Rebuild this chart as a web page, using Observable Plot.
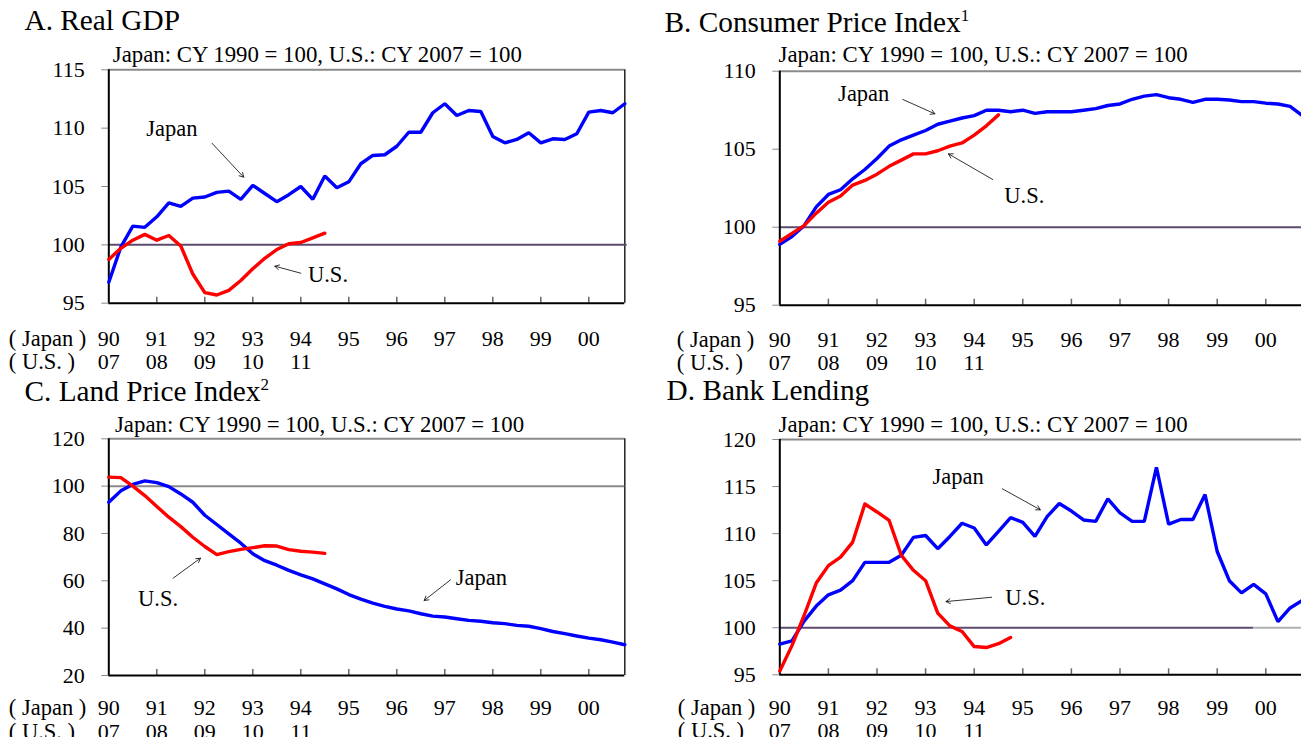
<!DOCTYPE html>
<html>
<head>
<meta charset="utf-8">
<script src="https://cdn.jsdelivr.net/npm/d3@7"></script>
<script src="https://cdn.jsdelivr.net/npm/@observablehq/plot@0.6"></script>
<style>
html, body { margin: 0; padding: 0; background: #fff; overflow: hidden; }
#root { position: relative; width: 1301px; height: 737px; overflow: hidden; font-family: "Liberation Serif", "Times New Roman", serif; color: #000; }
.panel { position: absolute; }
#overlay { position: absolute; left: 0; top: 0; }
</style>
</head>
<body>
<div id="root"></div>
<script>
// ---------------- data ----------------
const yearTicks = [1990, 1991, 1992, 1993, 1994, 1995, 1996, 1997, 1998, 1999, 2000];
const japanYearLabels = ["90", "91", "92", "93", "94", "95", "96", "97", "98", "99", "00"];
const usYearLabels = ["07", "08", "09", "10", "11"];
const rowLabels = ["( Japan )", "( U.S. )"];

const panelTitles = ["A. Real GDP", "B. Consumer Price Index", "C. Land Price Index", "D. Bank Lending"];
const titleNotes = ["", "1", "2", ""];
const baseNote = "Japan: CY 1990 = 100, U.S.: CY 2007 = 100";

// quarterly, Japan from 1990 Q1, U.S. from 2007 Q1
const gdpJapan = [96.8, 99.8, 101.6, 101.5, 102.4, 103.6, 103.3, 104.0, 104.1, 104.5, 104.6, 103.9,
  105.1, 104.4, 103.7, 104.3, 105.0, 103.9, 105.9, 104.9, 105.4, 106.95, 107.66, 107.72,
  108.45, 109.65, 109.65, 111.32, 112.09, 111.08, 111.51, 111.43, 109.28, 108.74, 109.03, 109.6,
  108.74, 109.09, 109.03, 109.52, 111.37, 111.51, 111.32, 112.09];
const gdpUS = [98.75, 99.7, 100.4, 100.9, 100.4, 100.8, 99.9, 97.5, 95.9, 95.7, 96.1, 96.95,
  97.95, 98.85, 99.6, 100.1, 100.2, 100.6, 101.0];

const cpiJapan = [98.9, 99.4, 100.1, 101.3, 102.1, 102.4, 103.1, 103.7, 104.4, 105.2, 105.6, 105.9,
  106.2, 106.6, 106.8, 107.0, 107.15, 107.5, 107.5, 107.4, 107.5, 107.3, 107.4, 107.4,
  107.4, 107.5, 107.6, 107.8, 107.9, 108.2, 108.4, 108.5, 108.3, 108.2, 108.0, 108.2,
  108.2, 108.15, 108.05, 108.05, 107.95, 107.9, 107.75, 107.15];
const cpiUS = [99.1, 99.6, 100.1, 100.9, 101.6, 102.0, 102.7, 103.0, 103.4, 103.9, 104.3, 104.7,
  104.7, 104.9, 105.2, 105.4, 105.9, 106.5, 107.2];

const landJapan = [93.2, 98.0, 100.7, 102.2, 101.5, 99.8, 96.7, 93.2, 87.7, 83.8, 79.8, 75.9,
  71.4, 68.5, 66.6, 64.4, 62.5, 60.8, 58.7, 56.6, 54.2, 52.3, 50.6, 49.2,
  48.1, 47.3, 46.1, 45.1, 44.7, 44.0, 43.3, 42.9, 42.3, 41.9, 41.2, 40.8,
  39.8, 38.6, 37.7, 36.7, 35.8, 35.1, 34.1, 33.0];
const landUS = [103.8, 103.6, 100.0, 96.0, 91.4, 86.9, 82.9, 78.4, 74.5, 71.1, 72.3, 73.3,
  74.0, 74.8, 74.7, 73.2, 72.5, 72.1, 71.6];

const lendJapan = [98.26, 98.6, 100.7, 102.3, 103.5, 104.0, 105.0, 106.95, 106.95, 106.95, 107.7, 109.6,
  109.8, 108.4, 109.7, 111.1, 110.6, 108.8, 110.25, 111.7, 111.2, 109.7, 111.8, 113.2,
  112.4, 111.45, 111.3, 113.7, 112.2, 111.3, 111.3, 117.05, 111.0, 111.5, 111.5, 114.15,
  108.1, 105.0, 103.7, 104.6, 103.6, 100.65, 102.1, 102.9];
const lendUS = [95.4, 98.1, 101.3, 104.75, 106.6, 107.5, 109.1, 113.15, 112.3, 111.4, 107.7, 106.1,
  105.0, 101.55, 100.2, 99.6, 98.0, 97.9, 98.3, 98.97];

const yTicksA = [95, 100, 105, 110, 115];
const yTicksB = [95, 100, 105, 110];
const yTicksC = [20, 40, 60, 80, 100, 120];
const yTicksD = [95, 100, 105, 110, 115, 120];

// annotation labels and arrows (data units: year, index value)
const labelsA = [{label: "Japan", x: 1990.78, y: 109.37}, {label: "U.S.", x: 1994.15, y: 96.8}];
const arrowsA = [{x1: 1992.15, y1: 108.71, x2: 1992.81, y2: 105.8}, {x1: 1994.0, y1: 97.57, x2: 1993.46, y2: 98.17}];
const labelsB = [{label: "Japan", x: 1991.2, y: 108.12}, {label: "U.S.", x: 1994.62, y: 101.52}];
const arrowsB = [{x1: 1992.53, y1: 108.19, x2: 1993.19, y2: 107.27}, {x1: 1994.38, y1: 103.06, x2: 1993.47, y2: 104.7}];
const labelsC = [{label: "U.S.", x: 1990.61, y: 49.27}, {label: "Japan", x: 1997.23, y: 58.32}];
const arrowsC = [{x1: 1991.34, y1: 61.11, x2: 1991.91, y2: 69.56}, {x1: 1997.12, y1: 60.43, x2: 1996.57, y2: 51.68}];
const labelsD = [{label: "Japan", x: 1993.14, y: 115.29}, {label: "U.S.", x: 1994.64, y: 102.43}];
const arrowsD = [{x1: 1994.58, y1: 114.76, x2: 1995.36, y2: 112.53}, {x1: 1994.36, y1: 103.24, x2: 1993.42, y2: 102.78}];

// ---------------- helpers ----------------
const toSeries = (values) => values.map((v, i) => ({t: 1990 + i / 4, v}));
const tickLabel = (d, i) => usYearLabels[i] !== undefined ? japanYearLabels[i] + "\n" + usYearLabels[i] : japanYearLabels[i];

const root = document.getElementById("root");

// titles and subtitles
const overlay = d3.create("svg").attr("id", "overlay").attr("width", 1301).attr("height", 737)
  .style("font-family", '"Liberation Serif", "Times New Roman", serif');
const titlePos = [
  {x: 24.5, y: 30, sx: 112.8, sy: 61.5},
  {x: 664.5, y: 31.5, sx: 778.6, sy: 62},
  {x: 24.5, y: 400.5, sx: 115, sy: 431.5},
  {x: 666.6, y: 400, sx: 778.6, sy: 431.5}
];
panelTitles.forEach((t, i) => {
  const p = titlePos[i];
  const tx = overlay.append("text").attr("x", p.x).attr("y", p.y).attr("font-size", 29.3).attr("fill", "#000");
  tx.append("tspan").text(t);
  if (titleNotes[i]) tx.append("tspan").attr("dy", -11).attr("font-size", 17).text(titleNotes[i]);
  overlay.append("text").attr("x", p.sx).attr("y", p.sy).attr("font-size", 22.8).attr("fill", "#000").text(baseNote);
});
root.appendChild(overlay.node());

function makePanel(cfg) {
  const plotH = cfg.height - cfg.marginTop - cfg.marginBottom;
  const pxPerUnit = plotH / (cfg.yDomain[1] - cfg.yDomain[0]);
  const ymin = cfg.yDomain[0], ymax = cfg.yDomain[1];
  const marks = [
    Plot.ruleY([ymax], {stroke: "#8a8a8a", strokeWidth: 2}),
    ...(cfg.rightFrame ? [Plot.ruleX([2000.75], {stroke: "#222", strokeWidth: 1.5})] : []),
    ...cfg.refLines.map(r => Plot.ruleY([100], {x1: r[0], x2: r[1], stroke: r[2], strokeWidth: 2})),
    Plot.ruleX(yearTicks.slice(1), {x: d => d, y1: ymin, y2: ymin + 6 / pxPerUnit, stroke: "#666", strokeWidth: 1.5}),
    Plot.axisY(cfg.yTicks, {tickSize: 7, tickPadding: 17, stroke: "#8a8a8a", fontSize: 22, label: null}),
    Plot.axisX(yearTicks, {tickSize: 0, tickPadding: cfg.pad, fontSize: 22, lineHeight: 1.05, tickFormat: tickLabel, label: null}),
    Plot.text([rowLabels.join("\n")], {frameAnchor: "bottom-left", dx: cfg.rowDx, dy: cfg.pad, lineAnchor: "top", textAnchor: "start", fontSize: 22.5, lineHeight: 1.03}),
    Plot.ruleX([1990], {stroke: "#000", strokeWidth: 2}),
    Plot.ruleY([ymin], {stroke: "#000", strokeWidth: 2}),
    Plot.line(toSeries(cfg.japan), {x: "t", y: "v", stroke: "#0000ff", strokeWidth: 3.4, strokeLinejoin: "miter"}),
    Plot.line(toSeries(cfg.us), {x: "t", y: "v", stroke: "#ff0000", strokeWidth: 3.4}),
    Plot.arrow(cfg.arrows, {x1: "x1", y1: "y1", x2: "x2", y2: "y2", stroke: "#000", strokeWidth: 0.8, headLength: 9}),
    Plot.text(cfg.labels, {x: "x", y: "y", text: "label", textAnchor: "start", lineAnchor: "bottom", fontSize: 22.5})
  ];
  const svg = Plot.plot({
    width: cfg.width, height: cfg.height,
    marginLeft: cfg.marginLeft, marginRight: cfg.marginRight,
    marginTop: cfg.marginTop, marginBottom: cfg.marginBottom,
    x: {domain: [1990, 2000.75]},
    y: {domain: cfg.yDomain},
    style: {background: "transparent", overflow: "visible", fontFamily: '"Liberation Serif", "Times New Roman", serif', fontSize: "22px", color: "#000"},
    marks
  });
  const div = document.createElement("div");
  div.className = "panel";
  div.style.left = cfg.left + "px";
  div.style.top = cfg.top + "px";
  div.style.width = cfg.width + "px";
  div.style.height = cfg.height + "px";
  div.appendChild(svg);
  root.appendChild(div);
}

const purple = "#5e4a6e";
makePanel({left: 0, top: 0, width: 640, height: 370, marginLeft: 108.3, marginRight: 15.7, marginTop: 69.3, marginBottom: 67.3,
  yDomain: [95, 115], yTicks: yTicksA, japan: gdpJapan, us: gdpUS, labels: labelsA, arrows: arrowsA,
  refLines: [[1990, 2000.8, purple]], rightFrame: true, pad: 26, rowDx: -100});
makePanel({left: 650, top: 0, width: 660, height: 370, marginLeft: 129.3, marginRight: 8.25, marginTop: 70.7, marginBottom: 65.3,
  yDomain: [95, 110], yTicks: yTicksB, japan: cpiJapan, us: cpiUS, labels: labelsB, arrows: arrowsB,
  refLines: [[1990, 2000.75, purple]], rightFrame: false, pad: 25, rowDx: -103});
makePanel({left: 0, top: 370, width: 640, height: 367, marginLeft: 108.3, marginRight: 15.7, marginTop: 68.3, marginBottom: 62,
  yDomain: [20, 120], yTicks: yTicksC, japan: landJapan, us: landUS, labels: labelsC, arrows: arrowsC,
  refLines: [[1990, 2000.75, "#8a8a8a"]], rightFrame: true, pad: 23.5, rowDx: -100});
makePanel({left: 650, top: 370, width: 660, height: 367, marginLeft: 129.3, marginRight: 8.25, marginTop: 69, marginBottom: 62.7,
  yDomain: [95, 120], yTicks: yTicksD, japan: lendJapan, us: lendUS, labels: labelsD, arrows: arrowsD,
  refLines: [[1990, 1999.75, purple], [1999.75, 2000.75, "#b0b0b0"]], rightFrame: false, pad: 23.5, rowDx: -102});
</script>
</body>
</html>
